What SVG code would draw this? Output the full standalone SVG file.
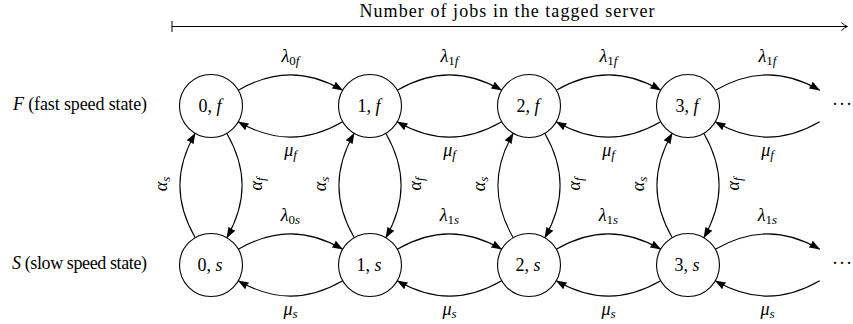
<svg xmlns="http://www.w3.org/2000/svg" width="853" height="324" viewBox="0 0 853 324">
<style>
text{font-family:"Liberation Serif","Times New Roman",serif;font-size:18px;fill:#000}
.m{font-style:italic}
.sub{font-size:13px}
.lbl{text-anchor:middle}
circle{fill:#fff;stroke:#000;stroke-width:1.1}
#connectors path{fill:none;stroke:#000;stroke-width:1.1;marker-end:url(#ah)}
</style>
<defs>
<marker id="ah" markerUnits="userSpaceOnUse" viewBox="0 0 11 8" markerWidth="11" markerHeight="8" refX="10.5" refY="4" orient="auto">
<path d="M0,0 L11,4 L0,8 Q1.5,4 0,0 z" fill="#000"/>
</marker>
</defs>

<g id="axis">
<line x1="172" y1="26.5" x2="847" y2="26.5" stroke="#000" stroke-width="1"/>
<line x1="172" y1="21" x2="172" y2="32" stroke="#000" stroke-width="1"/>
<path d="M841.5,22.5 Q844.5,25.6 847.5,26.5 Q844.5,27.4 841.5,30.5" fill="none" stroke="#000" stroke-width="1"/>
<text x="507" y="17" text-anchor="middle" textLength="295" lengthAdjust="spacing">Number of jobs in the tagged server</text>
</g>

<g id="row-labels">
<text x="147" y="110" text-anchor="end" textLength="134" lengthAdjust="spacing"><tspan class="m">F</tspan> (fast speed state)</text>
<text x="147" y="269" text-anchor="end" textLength="135" lengthAdjust="spacing"><tspan class="m">S</tspan> (slow speed state)</text>
</g>

<g id="connectors">
<path d="M238.28,90.25 C273.7,69.8 307.3,69.8 342.72,90.25"/>
<path d="M397.28,90.25 C432.7,69.8 466.3,69.8 501.72,90.25"/>
<path d="M556.28,90.25 C591.7,69.8 625.3,69.8 660.72,90.25"/>
<path d="M715.28,90.25 C750.7,69.8 784.3,69.8 819.72,90.25"/>
<path d="M342.72,121.75 C307.3,142.2 273.7,142.2 238.28,121.75"/>
<path d="M501.72,121.75 C466.3,142.2 432.7,142.2 397.28,121.75"/>
<path d="M660.72,121.75 C625.3,142.2 591.7,142.2 556.28,121.75"/>
<path d="M819.72,121.75 C784.3,142.2 750.7,142.2 715.28,121.75"/>
<path d="M238.28,249.25 C273.7,228.8 307.3,228.8 342.72,249.25"/>
<path d="M397.28,249.25 C432.7,228.8 466.3,228.8 501.72,249.25"/>
<path d="M556.28,249.25 C591.7,228.8 625.3,228.8 660.72,249.25"/>
<path d="M715.28,249.25 C750.7,228.8 784.3,228.8 819.72,249.25"/>
<path d="M342.72,280.75 C307.3,301.2 273.7,301.2 238.28,280.75"/>
<path d="M501.72,280.75 C466.3,301.2 432.7,301.2 397.28,280.75"/>
<path d="M660.72,280.75 C625.3,301.2 591.7,301.2 556.28,280.75"/>
<path d="M819.72,280.75 C784.3,301.2 750.7,301.2 715.28,280.75"/>
<path d="M195.25,237.72 C174.8,202.3 174.8,168.7 195.25,133.28"/>
<path d="M226.75,133.28 C247.2,168.7 247.2,202.3 226.75,237.72"/>
<path d="M354.25,237.72 C333.8,202.3 333.8,168.7 354.25,133.28"/>
<path d="M385.75,133.28 C406.2,168.7 406.2,202.3 385.75,237.72"/>
<path d="M513.25,237.72 C492.8,202.3 492.8,168.7 513.25,133.28"/>
<path d="M544.75,133.28 C565.2,168.7 565.2,202.3 544.75,237.72"/>
<path d="M672.25,237.72 C651.8,202.3 651.8,168.7 672.25,133.28"/>
<path d="M703.75,133.28 C724.2,168.7 724.2,202.3 703.75,237.72"/>
</g>

<g id="edge-labels">
<text class="lbl" x="290.5" y="62"><tspan class="m">λ</tspan><tspan class="sub" dy="3">0</tspan><tspan class="sub m">f</tspan></text>
<text class="lbl" x="449.5" y="62"><tspan class="m">λ</tspan><tspan class="sub" dy="3">1</tspan><tspan class="sub m">f</tspan></text>
<text class="lbl" x="608.5" y="62"><tspan class="m">λ</tspan><tspan class="sub" dy="3">1</tspan><tspan class="sub m">f</tspan></text>
<text class="lbl" x="767.5" y="62"><tspan class="m">λ</tspan><tspan class="sub" dy="3">1</tspan><tspan class="sub m">f</tspan></text>
<text class="lbl" x="290.5" y="156"><tspan class="m">μ</tspan><tspan class="sub m" dy="3">f</tspan></text>
<text class="lbl" x="449.5" y="156"><tspan class="m">μ</tspan><tspan class="sub m" dy="3">f</tspan></text>
<text class="lbl" x="608.5" y="156"><tspan class="m">μ</tspan><tspan class="sub m" dy="3">f</tspan></text>
<text class="lbl" x="767.5" y="156"><tspan class="m">μ</tspan><tspan class="sub m" dy="3">f</tspan></text>
<text class="lbl" x="290.5" y="221"><tspan class="m">λ</tspan><tspan class="sub" dy="3">0</tspan><tspan class="sub m">s</tspan></text>
<text class="lbl" x="449.5" y="221"><tspan class="m">λ</tspan><tspan class="sub" dy="3">1</tspan><tspan class="sub m">s</tspan></text>
<text class="lbl" x="608.5" y="221"><tspan class="m">λ</tspan><tspan class="sub" dy="3">1</tspan><tspan class="sub m">s</tspan></text>
<text class="lbl" x="767.5" y="221"><tspan class="m">λ</tspan><tspan class="sub" dy="3">1</tspan><tspan class="sub m">s</tspan></text>
<text class="lbl" x="290.5" y="315"><tspan class="m">μ</tspan><tspan class="sub m" dy="3">s</tspan></text>
<text class="lbl" x="449.5" y="315"><tspan class="m">μ</tspan><tspan class="sub m" dy="3">s</tspan></text>
<text class="lbl" x="608.5" y="315"><tspan class="m">μ</tspan><tspan class="sub m" dy="3">s</tspan></text>
<text class="lbl" x="767.5" y="315"><tspan class="m">μ</tspan><tspan class="sub m" dy="3">s</tspan></text>
<text class="lbl" transform="translate(163.5,184) rotate(-90)" x="0" y="3"><tspan class="m">α</tspan><tspan class="sub m" dy="3">s</tspan></text>
<text class="lbl" transform="translate(258.5,184) rotate(-90)" x="0" y="3"><tspan class="m">α</tspan><tspan class="sub m" dy="3">f</tspan></text>
<text class="lbl" transform="translate(322.5,184) rotate(-90)" x="0" y="3"><tspan class="m">α</tspan><tspan class="sub m" dy="3">s</tspan></text>
<text class="lbl" transform="translate(417.5,184) rotate(-90)" x="0" y="3"><tspan class="m">α</tspan><tspan class="sub m" dy="3">f</tspan></text>
<text class="lbl" transform="translate(481.5,184) rotate(-90)" x="0" y="3"><tspan class="m">α</tspan><tspan class="sub m" dy="3">s</tspan></text>
<text class="lbl" transform="translate(576.5,184) rotate(-90)" x="0" y="3"><tspan class="m">α</tspan><tspan class="sub m" dy="3">f</tspan></text>
<text class="lbl" transform="translate(640.5,184) rotate(-90)" x="0" y="3"><tspan class="m">α</tspan><tspan class="sub m" dy="3">s</tspan></text>
<text class="lbl" transform="translate(735.5,184) rotate(-90)" x="0" y="3"><tspan class="m">α</tspan><tspan class="sub m" dy="3">f</tspan></text>
</g>

<g id="node-0f"><circle cx="211" cy="106" r="31.5"/><text class="lbl" x="210" y="112">0, <tspan class="m">f</tspan></text></g>
<g id="node-1f"><circle cx="370" cy="106" r="31.5"/><text class="lbl" x="369" y="112">1, <tspan class="m">f</tspan></text></g>
<g id="node-2f"><circle cx="529" cy="106" r="31.5"/><text class="lbl" x="528" y="112">2, <tspan class="m">f</tspan></text></g>
<g id="node-3f"><circle cx="688" cy="106" r="31.5"/><text class="lbl" x="687" y="112">3, <tspan class="m">f</tspan></text></g>
<g id="node-0s"><circle cx="211" cy="265" r="31.5"/><text class="lbl" x="210" y="271">0, <tspan class="m">s</tspan></text></g>
<g id="node-1s"><circle cx="370" cy="265" r="31.5"/><text class="lbl" x="369" y="271">1, <tspan class="m">s</tspan></text></g>
<g id="node-2s"><circle cx="529" cy="265" r="31.5"/><text class="lbl" x="528" y="271">2, <tspan class="m">s</tspan></text></g>
<g id="node-3s"><circle cx="688" cy="265" r="31.5"/><text class="lbl" x="687" y="271">3, <tspan class="m">s</tspan></text></g>
<g id="node-dots-f"><text class="lbl" x="842.5" y="110" letter-spacing="1">···</text></g>
<g id="node-dots-s"><text class="lbl" x="842.5" y="269" letter-spacing="1">···</text></g>
</svg>
